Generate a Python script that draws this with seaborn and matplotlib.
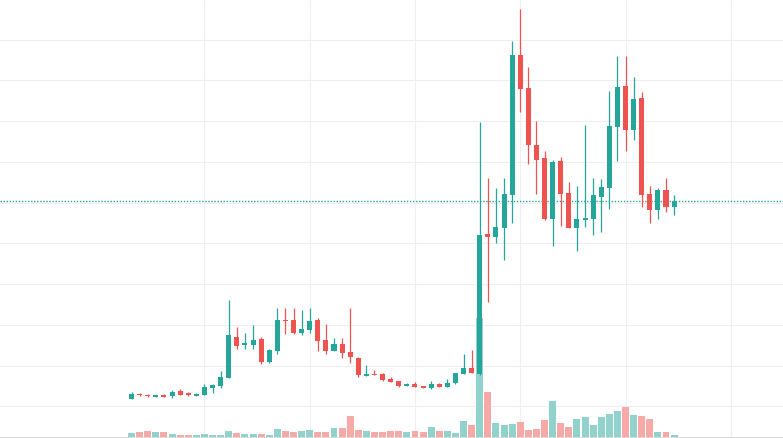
import numpy as np
import pandas as pd
import matplotlib
matplotlib.use("Agg")
import matplotlib.pyplot as plt
import seaborn as sns
from matplotlib.ticker import MultipleLocator

# OHLC per bar, oldest first
open_ = [1.19, 1.31, 1.28, 1.24, 1.26, 1.25, 1.38, 1.32, 1.26, 1.28,
         1.46, 1.51, 1.70, 2.71, 2.51, 2.51, 2.65, 2.08, 2.37, 3.13,
         3.12, 2.80, 2.88, 3.12, 2.63, 2.37, 2.53, 2.33, 2.19, 1.75,
         1.79, 1.80, 1.67, 1.62, 1.51, 1.55, 1.50, 1.46, 1.55, 1.48,
         1.57, 1.80, 1.94, 1.80, 5.23, 5.16, 5.38, 6.20, 9.63, 8.81,
         7.42, 7.10, 5.61, 7.02, 6.24, 5.38, 5.58, 5.61, 6.15, 6.37,
         7.86, 8.87, 7.79, 8.57, 6.21, 5.83, 6.31, 5.90]
high = [1.35, 1.33, 1.31, 1.27, 1.31, 1.40, 1.43, 1.36, 1.33, 1.56,
        1.54, 1.86, 3.62, 2.95, 2.80, 3.00, 2.71, 2.41, 3.41, 3.41,
        3.41, 3.36, 3.41, 3.17, 3.02, 2.68, 2.68, 3.41, 2.21, 2.01,
        1.89, 1.83, 1.72, 1.63, 1.58, 1.60, 1.51, 1.62, 1.58, 1.68,
        1.83, 2.28, 2.38, 7.98, 6.61, 6.36, 6.61, 9.97, 10.75, 9.33,
        8.00, 7.27, 7.05, 7.12, 6.51, 6.42, 7.91, 6.61, 6.58, 8.75,
        9.61, 9.61, 9.09, 8.72, 6.42, 6.37, 6.61, 6.20]
low = [1.18, 1.26, 1.24, 1.23, 1.23, 1.21, 1.27, 1.26, 1.25, 1.27,
       1.33, 1.46, 1.69, 2.41, 2.41, 2.41, 2.04, 2.07, 2.28, 2.78,
       2.78, 2.74, 2.80, 2.37, 2.28, 2.36, 2.18, 2.06, 1.73, 1.74,
       1.76, 1.62, 1.59, 1.47, 1.50, 1.47, 1.45, 1.43, 1.47, 1.47,
       1.56, 1.79, 1.82, 1.78, 3.57, 5.02, 4.60, 5.51, 8.23, 6.96,
       6.22, 5.58, 4.94, 5.43, 5.37, 4.82, 5.41, 5.21, 5.29, 5.85,
       7.03, 7.28, 7.55, 5.90, 5.51, 5.61, 5.78, 5.70]
close = [1.30, 1.27, 1.25, 1.26, 1.24, 1.35, 1.28, 1.27, 1.31, 1.47,
         1.53, 1.73, 2.75, 2.49, 2.55, 2.63, 2.08, 2.38, 3.12, 3.10,
         2.80, 2.90, 3.09, 2.61, 2.37, 2.53, 2.31, 2.20, 1.78, 1.79,
         1.77, 1.65, 1.60, 1.51, 1.55, 1.48, 1.46, 1.55, 1.48, 1.58,
         1.82, 1.94, 1.83, 5.21, 5.16, 5.40, 6.21, 9.63, 8.80, 7.42,
         7.05, 5.61, 7.00, 6.22, 5.38, 5.60, 5.62, 6.20, 6.39, 7.88,
         8.84, 7.79, 8.54, 6.20, 5.83, 6.31, 5.90, 6.04]
volume = [4, 5, 6, 5, 5, 3, 2, 2, 2, 3,
          2, 2, 6, 4, 3, 3, 3, 2, 8, 6,
          5, 6, 7, 5, 5, 9, 9, 21, 7, 6,
          5, 5, 6, 6, 5, 6, 5, 10, 6, 6,
          4, 16, 12, 119, 45, 14, 12, 13, 15, 7,
          8, 17, 36, 14, 10, 18, 20, 12, 20, 23,
          26, 30, 22, 21, 18, 5, 5, 2]

UP, DOWN = "#26a69a", "#ef5350"
UP_VOL, DOWN_VOL = "#92d2cc", "#f7a9a7"

df = pd.DataFrame({"open": open_, "high": high, "low": low,
                   "close": close, "volume": volume})
df["idx"] = np.arange(len(df))
df["dir"] = np.where(df["close"] >= df["open"], "up", "down")

sns.set_style("white")

fig = plt.figure(figsize=(7.83, 4.39), dpi=100)
XLIM = (-16.25, 80.45)
YLIM = (0.222, 11.0)

# background grid (time lines every 13 bars)
ax_grid = fig.add_axes([0, 0, 1, 1])
ax_grid.set_xlim(XLIM)
ax_grid.set_ylim(YLIM)
ax_grid.set_xticks(np.arange(9, 80, 13))
ax_grid.yaxis.set_major_locator(MultipleLocator(1))
ax_grid.grid(True, color="#efefef", linewidth=0.8)
ax_grid.tick_params(length=0, labelbottom=False, labelleft=False)
for side in ["top", "left", "right"]:
    ax_grid.spines[side].set_visible(False)
ax_grid.spines["bottom"].set_color("#dcdcdc")
ax_grid.spines["bottom"].set_linewidth(1.5)

# volume overlay at the bottom
ax_vol = fig.add_axes([0, 0, 1, 1], facecolor="none")
sns.barplot(data=df, x="idx", y="volume", hue="dir", native_scale=True,
            palette={"up": UP_VOL, "down": DOWN_VOL}, saturation=1,
            width=0.86, dodge=False, errorbar=None, legend=False,
            linewidth=0, ax=ax_vol)
ax_vol.set_xlim(XLIM)
ax_vol.set_ylim(-1, 438)
ax_vol.set_axis_off()

# candles on top
ax = fig.add_axes([0, 0, 1, 1], facecolor="none")
colors = np.where(df["dir"] == "up", UP, DOWN)
min_h = 0.03
body_lo = np.minimum(df["open"], df["close"])
body_h = np.maximum((df["close"] - df["open"]).abs(), min_h)
ax.axhline(df["close"].iloc[-1], color=UP, linewidth=1.0,
           linestyle=(0, (1, 1.2)), zorder=1)
ax.vlines(df["idx"], df["low"], df["high"], colors=colors, linewidth=0.9, zorder=2)
ax.bar(df["idx"], body_h, bottom=body_lo, width=0.62, color=colors,
       linewidth=0, zorder=3)
ax.set_xlim(XLIM)
ax.set_ylim(YLIM)
ax.set_axis_off()

fig.savefig("out.png", dpi=100)
